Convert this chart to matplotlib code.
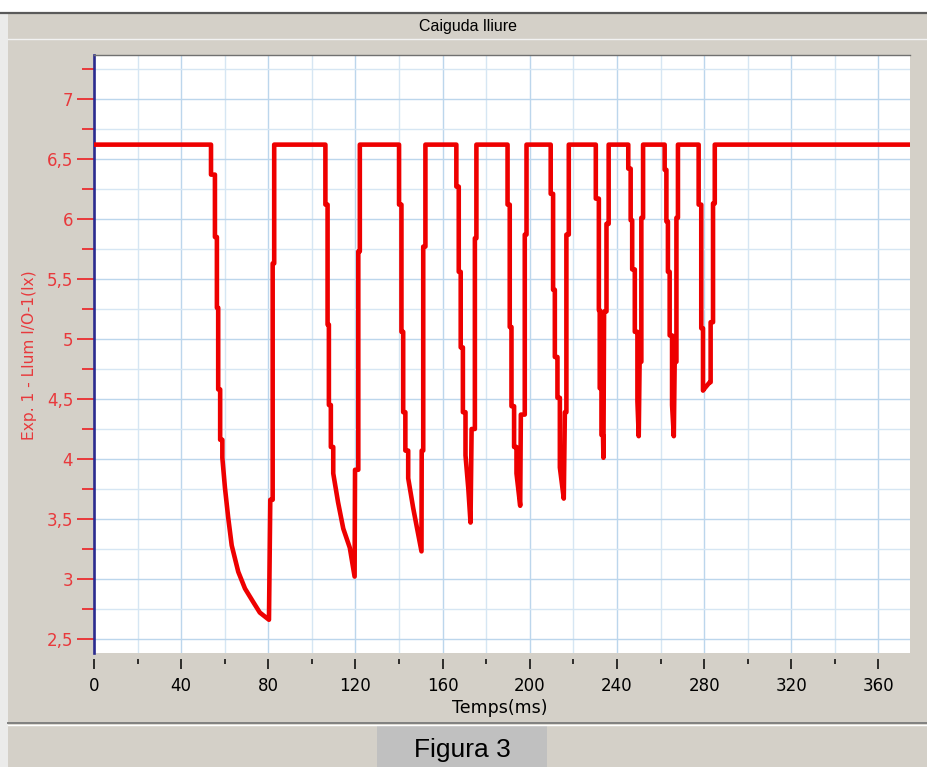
import matplotlib
matplotlib.use("Agg")
import matplotlib.pyplot as plt
from matplotlib.patches import Rectangle
from matplotlib.lines import Line2D
from matplotlib.ticker import MultipleLocator, FuncFormatter

plt.rcParams['font.family'] = ['DejaVu Sans']

# Sensor de llum: vertexs de la corba, bot a bot (ms, lx)
temps_ms = [
    0.0,
    53.7, 53.7, 55.5, 55.5, 56.4, 56.4, 57.0, 57.0, 57.9, 57.9, 58.9, 58.9,
    60.1, 61.6, 63.2, 66.2, 69.3, 73.0, 76.1, 80.3,
    80.9, 82.0, 82.0, 82.7, 82.7,
    106.2, 106.2, 107.2, 107.2, 107.8, 107.8, 108.7, 108.7, 109.8, 109.8,
    112.0, 114.4, 117.4, 119.6,
    119.8, 121.3, 121.3, 122.0, 122.0,
    140.0, 140.0, 141.1, 141.1, 141.9, 141.9, 142.9, 142.9, 144.2, 144.2,
    146.5, 148.8, 150.3,
    150.4, 151.1, 151.1, 152.1, 152.1,
    166.3, 166.3, 167.4, 167.4, 168.3, 168.3, 169.3, 169.3, 170.5, 170.5,
    171.8, 172.8,
    173.3, 174.8, 174.8, 175.5, 175.5,
    189.8, 189.8, 190.8, 190.8, 191.6, 191.6, 192.8, 192.8, 193.9, 193.9,
    195.6,
    195.9, 197.7, 197.7, 198.5, 198.5,
    209.6, 209.6, 210.7, 210.7, 211.5, 211.5, 212.7, 212.7, 213.8, 213.8,
    215.6,
    216.1, 216.8, 216.8, 217.9, 217.9,
    230.3, 230.3, 231.7, 231.7, 232.1, 232.1, 232.9, 232.9, 233.6, 233.8,
    234.1, 235.2, 235.2, 236.2, 236.2,
    245.2, 245.2, 246.3, 246.3, 247.0, 247.0, 248.2, 248.2, 249.4, 249.4,
    250.0,
    250.4, 251.2, 251.2, 252.0, 252.0,
    261.9, 261.9, 262.7, 262.7, 263.4, 263.4, 264.2, 264.2, 265.3, 265.3,
    266.1,
    266.5, 267.3, 267.3, 268.0, 268.0,
    277.5, 277.5, 278.7, 278.7, 279.5, 279.5, 280.3, 282.6,
    283.0, 283.0, 284.1, 284.1, 284.9, 284.9,
    375.0,
]
llum_lx = [
    6.62,
    6.62, 6.37, 6.37, 5.85, 5.85, 5.26, 5.26, 4.58, 4.58, 4.16, 4.16, 4.01,
    3.76, 3.51, 3.28, 3.06, 2.92, 2.81, 2.72, 2.66,
    3.66, 3.66, 5.63, 5.63, 6.62,
    6.62, 6.12, 6.12, 5.12, 5.12, 4.45, 4.45, 4.10, 4.10, 3.88,
    3.64, 3.42, 3.26, 3.02,
    3.91, 3.91, 5.73, 5.73, 6.62,
    6.62, 6.12, 6.12, 5.06, 5.06, 4.39, 4.39, 4.07, 4.07, 3.84,
    3.59, 3.37, 3.23,
    4.07, 4.07, 5.77, 5.77, 6.62,
    6.62, 6.27, 6.27, 5.56, 5.56, 4.93, 4.93, 4.39, 4.39, 4.03,
    3.75, 3.47,
    4.25, 4.25, 5.84, 5.84, 6.62,
    6.62, 6.12, 6.12, 5.10, 5.10, 4.44, 4.44, 4.10, 4.10, 3.88,
    3.61,
    4.37, 4.37, 5.87, 5.87, 6.62,
    6.62, 6.21, 6.21, 5.41, 5.41, 4.85, 4.85, 4.51, 4.51, 3.93,
    3.67,
    4.39, 4.39, 5.87, 5.87, 6.62,
    6.62, 6.17, 6.17, 5.24, 5.24, 4.59, 4.59, 4.20, 4.20, 4.01,
    5.23, 5.23, 5.96, 5.96, 6.62,
    6.62, 6.42, 6.42, 5.99, 5.99, 5.58, 5.58, 5.06, 5.06, 4.48,
    4.19,
    4.81, 4.81, 6.01, 6.01, 6.62,
    6.62, 6.41, 6.41, 5.98, 5.98, 5.56, 5.56, 5.03, 5.03, 4.45,
    4.19,
    4.81, 4.81, 6.01, 6.01, 6.62,
    6.62, 6.12, 6.12, 5.09, 5.09, 4.57, 4.59, 4.64,
    4.64, 5.14, 5.14, 6.13, 6.13, 6.62,
    6.62,
]

W, H = 928, 767
BG = '#d4d0c8'
RED = '#e8393c'

fig = plt.figure(figsize=(W / 100, H / 100), dpi=100, facecolor=BG)


def px_rect(x0, y0, x1, y1, color):
    # rectangle en pixels (origen a dalt a l'esquerra)
    fig.patches.append(Rectangle((x0 / W, 1 - y1 / H), (x1 - x0) / W, (y1 - y0) / H,
                                 transform=fig.transFigure, color=color, lw=0, zorder=0))


def px_hline(y, x0, x1, color, lw):
    fig.lines.append(Line2D([x0 / W, x1 / W], [1 - y / H, 1 - y / H],
                            transform=fig.transFigure, color=color, lw=lw))


# marc de la finestra
px_rect(0, 0, W, 12, 'white')
px_rect(0, 12, 8, H, '#ebebea')
px_hline(12.5, 0, W, '#5a5a5a', 1.6)
px_hline(38.5, 8, W, '#f2f2f2', 1.0)
px_hline(723, 8, W, '#808080', 1.4)
px_hline(725, 8, W, '#ffffff', 1.0)
px_rect(377, 726, 547, H, '#c0c0c0')

fig.text(468 / W, 1 - 27 / H, 'Caiguda lliure', ha='center', va='center',
         fontsize=11.5, color='black', family='Liberation Sans')
fig.text(462 / W, 1 - 750 / H, 'Figura 3', ha='center', va='center',
         fontsize=19, color='black', family='Liberation Sans')

left, right, top, bottom = 94, 910, 55, 653
ax = fig.add_axes([left / W, 1 - bottom / H, (right - left) / W, (bottom - top) / H])
ax.set_facecolor('white')

ax.plot(temps_ms, llum_lx, color='#ee0000', lw=3.3, solid_joinstyle='round',
        solid_capstyle='butt', zorder=3)

ax.set_xlim(0, 374.5)
ax.set_ylim(2.383, 7.367)

ax.xaxis.set_major_locator(MultipleLocator(40))
ax.xaxis.set_minor_locator(MultipleLocator(20))
ax.yaxis.set_major_locator(MultipleLocator(0.5))
ax.yaxis.set_minor_locator(MultipleLocator(0.25))
ax.yaxis.set_major_formatter(FuncFormatter(lambda v, p: ('%g' % v).replace('.', ',')))

ax.grid(which='minor', color='#d6e6f3', lw=1.0, zorder=0)
ax.grid(which='major', color='#bcd6ec', lw=1.0, zorder=0)
ax.set_axisbelow(True)

ax.spines['right'].set_visible(False)
ax.spines['top'].set_color('#707070')
ax.spines['top'].set_linewidth(1.0)
ax.spines['left'].set_color('#2b2b8f')
ax.spines['left'].set_linewidth(1.9)
ax.spines['bottom'].set_position(('outward', 4))
ax.spines['bottom'].set_color('none')

ax.tick_params(axis='x', which='major', direction='out', length=7.2, width=1.1,
               color='black', labelsize=12, pad=6, labelcolor='black')
ax.tick_params(axis='x', which='minor', direction='out', length=3.6, width=1.1,
               color='black')
ax.tick_params(axis='y', which='major', direction='out', length=12, width=1.4,
               color=RED, labelsize=12, pad=3, labelcolor=RED)
ax.tick_params(axis='y', which='minor', direction='out', length=8.5, width=1.4,
               color=RED)

fig.text(500 / W, 1 - 708 / H, 'Temps(ms)', ha='center', va='center',
         fontsize=12.5, color='black')
fig.text(30 / W, 1 - 355 / H, 'Exp. 1 - Llum I/O-1(lx)', ha='center', va='center',
         rotation=90, fontsize=11.2, color=RED)

fig.savefig('out.png', dpi=100, facecolor=BG)
